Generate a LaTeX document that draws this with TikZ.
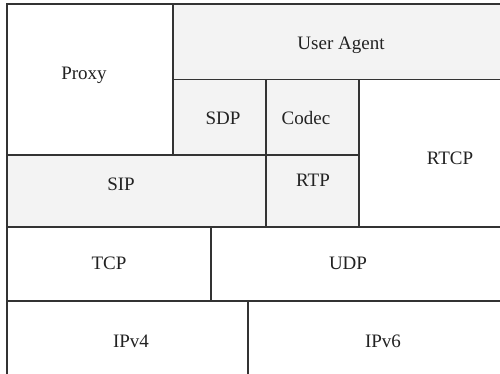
\documentclass[tikz,border=0pt]{standalone}
\usepackage{fontspec}
\setmainfont{Liberation Serif}
\definecolor{boxgray}{HTML}{F3F3F3}
\definecolor{linegray}{HTML}{333333}
\definecolor{textgray}{HTML}{222222}
\begin{document}
\begin{tikzpicture}[x=1pt,y=-1pt,
  box/.style={draw=linegray, line width=1.1pt, inner sep=0pt, outer sep=0pt, anchor=north west},
  gbox/.style={box, fill=boxgray},
  wbox/.style={box, fill=white},
  lbl/.style={anchor=base, inner sep=0pt, text=textgray, font=\fontsize{19}{22}\selectfont}]
\useasboundingbox (0,0) rectangle (500,373);
\clip (0,0) rectangle (500,373);
% boxes
\node[wbox, minimum width=166pt, minimum height=151pt] (proxy) at (7,4) {};
\node[gbox, minimum width=330pt, minimum height=75.5pt] (ua) at (173,4) {};
\node[gbox, minimum width=93pt, minimum height=75.5pt] (sdp) at (173,79.5) {};
\node[gbox, minimum width=93pt, minimum height=75.5pt] (codec) at (266,79.5) {};
\node[wbox, minimum width=144pt, minimum height=148pt] (rtcp) at (359,79.5) {};
\node[gbox, minimum width=259pt, minimum height=72pt] (sip) at (7,155) {};
\node[gbox, minimum width=93pt, minimum height=72pt] (rtp) at (266,155) {};
\node[wbox, minimum width=204pt, minimum height=74pt] (tcp) at (7,227) {};
\node[wbox, minimum width=292pt, minimum height=74pt] (udp) at (211,227) {};
\node[wbox, minimum width=241pt, minimum height=76pt] (ipv4) at (7,301) {};
\node[wbox, minimum width=255pt, minimum height=76pt] (ipv6) at (248,301) {};
% labels
\node[lbl] (tproxy) at (84,79) {Proxy};
\node[lbl] (tua) at (341,49) {User Agent};
\node[lbl] (tsdp) at (223,124) {SDP};
\node[lbl] (tcodec) at (306,124) {Codec};
\node[lbl] (trtcp) at (450,164) {RTCP};
\node[lbl] (tsip) at (121,190) {SIP};
\node[lbl] (trtp) at (313,186.5) {RTP};
\node[lbl] (ttcp) at (109,269) {TCP};
\node[lbl] (tudp) at (348,269) {UDP};
\node[lbl] (tipv4) at (131,347) {IPv4};
\node[lbl] (tipv6) at (383,347) {IPv6};
\end{tikzpicture}
\end{document}
